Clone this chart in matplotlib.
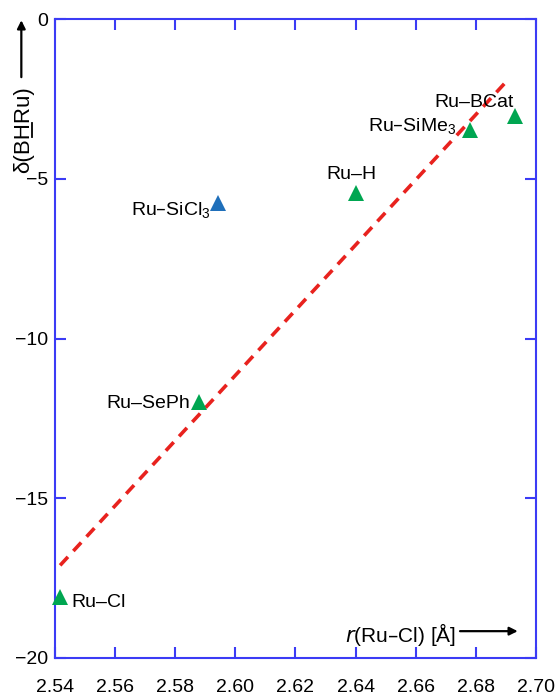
import numpy as np
import matplotlib
matplotlib.use('Agg')
import matplotlib.pyplot as plt
from matplotlib.lines import Line2D
from matplotlib.transforms import IdentityTransform

plt.rcParams['font.family'] = ['Liberation Sans', 'DejaVu Sans']
plt.rcParams['mathtext.default'] = 'regular'

# Data
names = ['Ru–Cl', 'Ru–SePh', 'Ru–SiCl$_3$', 'Ru–H', 'Ru–SiMe$_3$', 'Ru–BCat']
r_rucl = [2.5417, 2.588, 2.5943, 2.640, 2.678, 2.693]
delta = [-18.1, -12.0, -5.75, -5.45, -3.47, -3.03]
is_outlier = [False, False, True, False, False, False]

# dashed fit line end points
fit_x = [2.5417, 2.6903]
fit_y = [-17.1, -1.94]

xticks = [2.54, 2.56, 2.58, 2.60, 2.62, 2.64, 2.66, 2.68, 2.70]
yticks = [0, -5, -10, -15, -20]

# label offsets in pixels (text placement only)
offsets = [(11, -5), (-9, -1), (-8, -12), (-4, 14), (-14, -1), (-1, 9)]
aligns = ['left', 'right', 'right', 'center', 'right', 'right']

spine_col = '#3b3bf5'
green = '#00a651'
blue = '#1f6fba'

fig = plt.figure(figsize=(5.56, 7.0), dpi=100)
ax = fig.add_axes([55 / 556, 1 - 658 / 700, 481 / 556, 639 / 700])

ax.plot(fit_x, fit_y, color='#e8221e', lw=2.6, dashes=(3.2, 2.2), zorder=2)

for x, y, out in zip(r_rucl, delta, is_outlier):
    ax.plot(x, y, marker='^', ms=11, color=blue if out else green,
            markeredgewidth=0, linestyle='none', zorder=3, clip_on=False)

for name, x, y, off, ha in zip(names, r_rucl, delta, offsets, aligns):
    va = 'center' if name in ('Ru–Cl', 'Ru–SePh') else 'baseline'
    ax.annotate(name, (x, y), xytext=off, textcoords='offset pixels',
                ha=ha, va=va, fontsize=14)

ax.set_xlim(2.54, 2.70)
ax.set_ylim(-20, 0)
ax.set_xticks(xticks)
ax.set_xticklabels([f'{t:.2f}' for t in xticks])
ax.set_yticks(yticks)
ax.tick_params(direction='in', length=8, width=1.5, color=spine_col,
               top=True, right=True, labelsize=14)
ax.tick_params(axis='x', pad=15)
ax.tick_params(axis='y', pad=5)
for s in ax.spines.values():
    s.set_color(spine_col)
    s.set_linewidth(1.5)

# x axis label inside the plot with arrow
ax.text(0.834, 0.025, '$\\mathit{r}$(Ru–Cl) [Å]', transform=ax.transAxes,
        ha='right', va='baseline', fontsize=15)
ax.annotate('', xy=(0.962, 0.042), xytext=(0.842, 0.042),
            xycoords='axes fraction', textcoords='axes fraction',
            arrowprops=dict(arrowstyle='-|>', color='black', lw=1.6,
                            mutation_scale=12, shrinkA=0, shrinkB=0))

# y axis label with arrow, H underlined
ylab_size = 16
ylab = ax.text(-0.0645, 0.759, 'δ(BHRu)', transform=ax.transAxes, rotation=90,
               ha='center', va='bottom', fontsize=ylab_size)
ax.annotate('', xy=(-0.07, 0.998), xytext=(-0.07, 0.909),
            xycoords='axes fraction', textcoords='axes fraction',
            arrowprops=dict(arrowstyle='-|>', color='black', lw=1.6,
                            mutation_scale=12, shrinkA=0, shrinkB=0))

renderer = fig.canvas.get_renderer()
bb = ylab.get_window_extent(renderer)


def text_width(s):
    t = fig.text(0, 0, s, fontsize=ylab_size)
    w = t.get_window_extent(renderer).width
    t.remove()
    return w


w1 = text_width('δ(B')
w2 = text_width('δ(BH')
xu = bb.x1 - 2.5
fig.add_artist(Line2D([xu, xu], [bb.y0 + w1 + 1, bb.y0 + w2 - 1],
                      transform=IdentityTransform(), color='black', lw=1.3))

fig.savefig('out.png', dpi=100)
